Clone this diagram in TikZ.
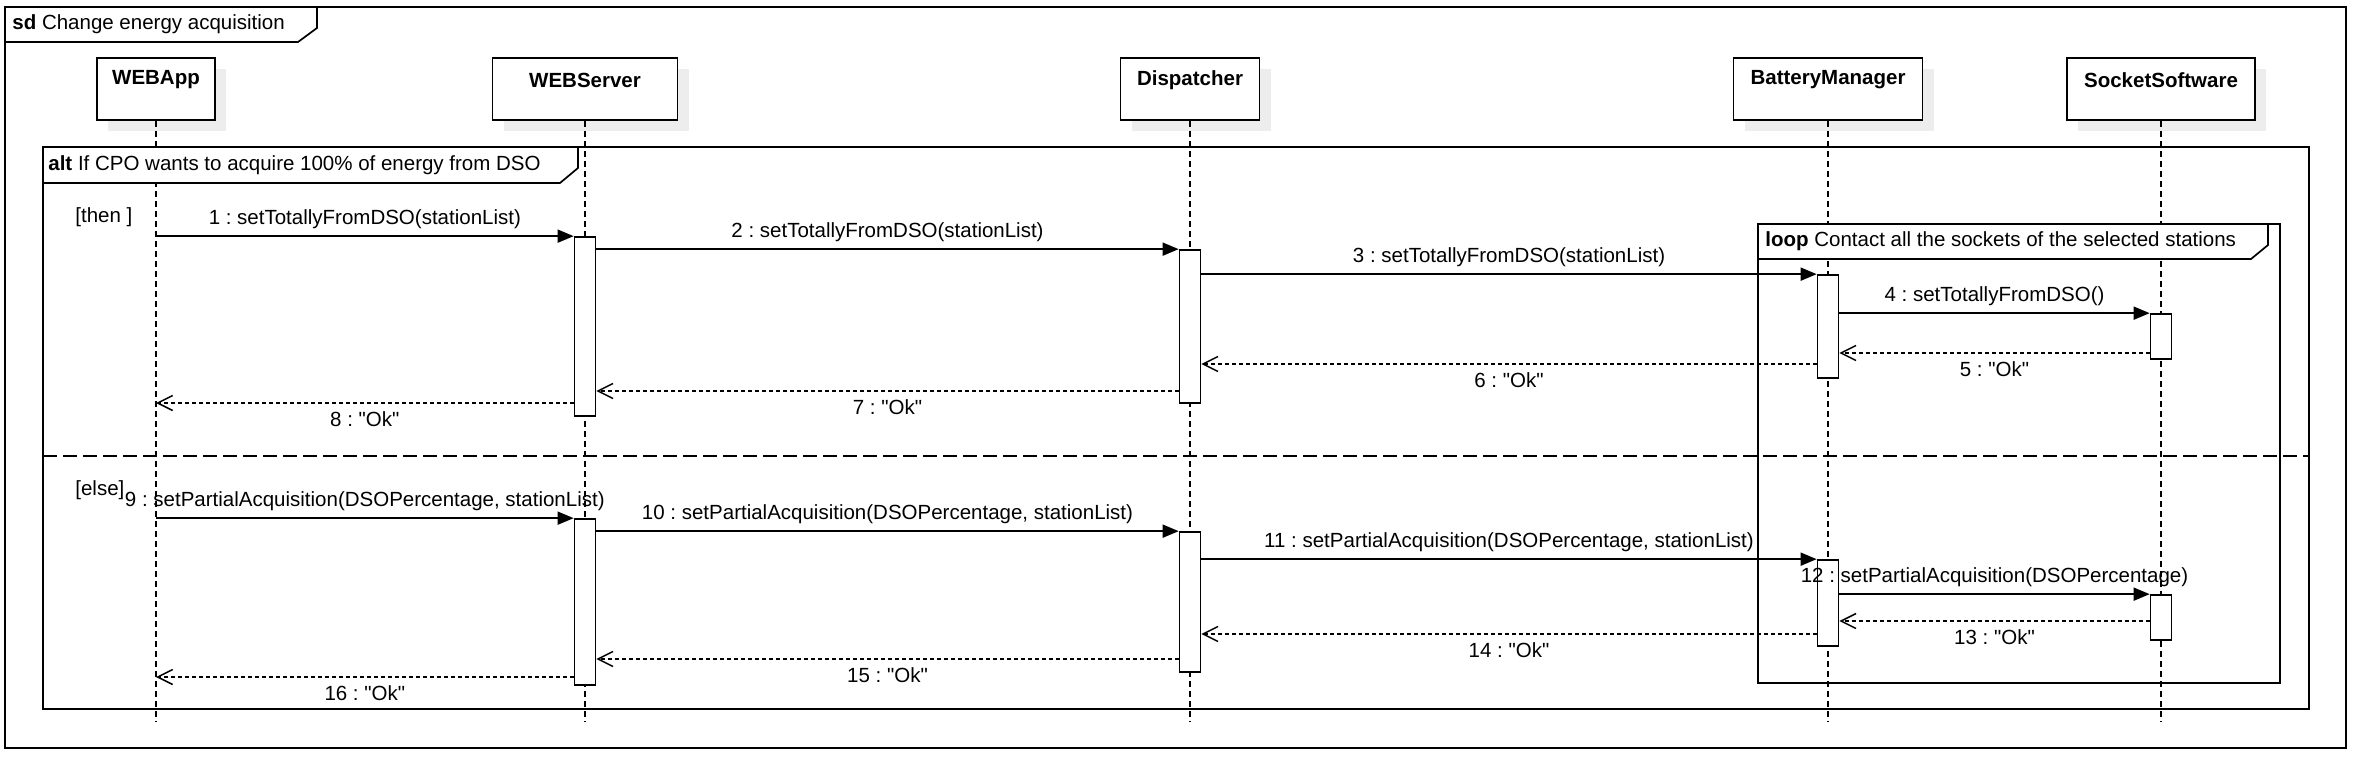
\documentclass[tikz,border=0pt]{standalone}
\usepackage{fontspec}
\setmainfont{Liberation Sans}[Ligatures=TeXOff]
\usetikzlibrary{arrows.meta,shadows}
\frenchspacing

\tikzset{
  head/.style={draw, fill=white, line width=0.85pt, minimum height=31pt, inner sep=0pt,
    drop shadow={shadow xshift=5.5pt, shadow yshift=-5.5pt, fill=black!7, opacity=1}},
  headtext/.style={font=\fontsize{10.25pt}{12pt}\selectfont\bfseries, inner sep=0pt},
  lifeline/.style={line width=0.85pt, dash pattern=on 3pt off 2pt},
  act/.style={draw, fill=white, line width=0.85pt, minimum width=10.5pt, inner sep=0pt},
  frame/.style={line width=0.85pt},
  msg/.style={line width=0.85pt, -{Triangle[length=8pt,width=6.5pt]}},
  ret/.style={line width=0.75pt, dash pattern=on 2pt off 1.5pt,
    -{Straight Barb[length=7.5pt,width=7.5pt,line width=0.75pt]}},
  lblup/.style={midway, yshift=8.5pt, inner sep=0pt},
  lbldn/.style={midway, yshift=-8pt, inner sep=0pt},
  guard/.style={anchor=west, inner sep=0pt}
}

\begin{document}
\begin{tikzpicture}[x=0.5pt, y=-0.5pt, font=\fontsize{10.25pt}{12pt}\selectfont]
  \useasboundingbox (0,0) rectangle (2354,760);

  % lifelines with their heads
  \foreach \n/\x/\w/\lbl in {app/156/118/WEBApp, srv/585/185/WEBServer, dsp/1190/139/Dispatcher,
      bat/1828/189/BatteryManager, sock/2161/188/SocketSoftware}{
    \node[head, minimum width=\w*0.5pt] (\n) at (\x,89) {};
    \node[headtext] (\n-txt) at (\x,80) {\lbl};
    \draw[lifeline] (\n.south) -- (\x,722);
  }

  % sd frame
  \draw[frame] (5,7) rectangle (2346,748);
  \filldraw[frame, fill=white] (5,7) -- (5,42) -- (298,42) -- (317,28) -- (317,7) -- cycle;
  \node[guard] (sdtitle) at (12,24.5) {\textbf{sd} Change energy acquisition};

  % alt frame
  \draw[frame] (43,147) rectangle (2309,709);
  \filldraw[frame, fill=white] (43,147) -- (43,183) -- (560,183) -- (578,168) -- (578,147) -- cycle;
  \node[guard] (alttitle) at (48,165) {\textbf{alt} If CPO wants to acquire 100\% of energy from DSO};
  \draw[frame, dash pattern=on 7pt off 3pt] (43,456) -- (2309,456);
  \node[guard] (then) at (75,217) {[then ]};
  \node[guard] (else) at (75,490) {[else]};

  % loop frame
  \draw[frame] (1758,224) rectangle (2280,683);
  \filldraw[frame, fill=white] (1758,224) -- (1758,259) -- (2251,259) -- (2268,245) -- (2268,224) -- cycle;
  \node[guard] (looptitle) at (1765,241.5) {\textbf{loop} Contact all the sockets of the selected stations};

  % activations
  \foreach \n/\x/\a/\b in {srvA/585/237/416, dspA/1190/250/403, batA/1828/275/378, sockA/2161/314/359,
      srvB/585/519/685, dspB/1190/532/672, batB/1828/560/646, sockB/2161/595/640}
    \node[act, minimum height={(\b-\a)*0.5pt}] (\n) at (\x,{(\a+\b)/2}) {};

  % then branch
  \draw[msg] (app |- srvA.north) -- (srvA.north west) node[lblup] (m1) {1 : setTotallyFromDSO(stationList)};
  \draw[msg] (srvA.east |- dspA.north) -- (dspA.north west) node[lblup] (m2) {2 : setTotallyFromDSO(stationList)};
  \draw[msg] (dspA.east |- batA.north) -- (batA.north west) node[lblup] (m3) {3 : setTotallyFromDSO(stationList)};
  \draw[msg] (batA.east |- sockA.north) -- (sockA.north west) node[lblup] (m4) {4 : setTotallyFromDSO()};
  \draw[ret] (sockA.west |- 0,353) -- (batA.east |- 0,353) node[lbldn] (m5) {5 : "Ok"};
  \draw[ret] (batA.west |- 0,364) -- (dspA.east |- 0,364) node[lbldn] (m6) {6 : "Ok"};
  \draw[ret] (dspA.west |- 0,391) -- (srvA.east |- 0,391) node[lbldn] (m7) {7 : "Ok"};
  \draw[ret] (srvA.west |- 0,403) -- (app |- 0,403) node[lbldn] (m8) {8 : "Ok"};

  % else branch
  \draw[msg] (app |- srvB.north) -- (srvB.north west) node[lblup] (m9) {9 : setPartialAcquisition(DSOPercentage, stationList)};
  \draw[msg] (srvB.east |- dspB.north) -- (dspB.north west) node[lblup] (m10) {10 : setPartialAcquisition(DSOPercentage, stationList)};
  \draw[msg] (dspB.east |- batB.north) -- (batB.north west) node[lblup] (m11) {11 : setPartialAcquisition(DSOPercentage, stationList)};
  \draw[msg] (batB.east |- sockB.north) -- (sockB.north west) node[lblup] (m12) {12 : setPartialAcquisition(DSOPercentage)};
  \draw[ret] (sockB.west |- 0,621) -- (batB.east |- 0,621) node[lbldn] (m13) {13 : "Ok"};
  \draw[ret] (batB.west |- 0,634) -- (dspB.east |- 0,634) node[lbldn] (m14) {14 : "Ok"};
  \draw[ret] (dspB.west |- 0,659) -- (srvB.east |- 0,659) node[lbldn] (m15) {15 : "Ok"};
  \draw[ret] (srvB.west |- 0,677) -- (app |- 0,677) node[lbldn] (m16) {16 : "Ok"};
\end{tikzpicture}
\end{document}
